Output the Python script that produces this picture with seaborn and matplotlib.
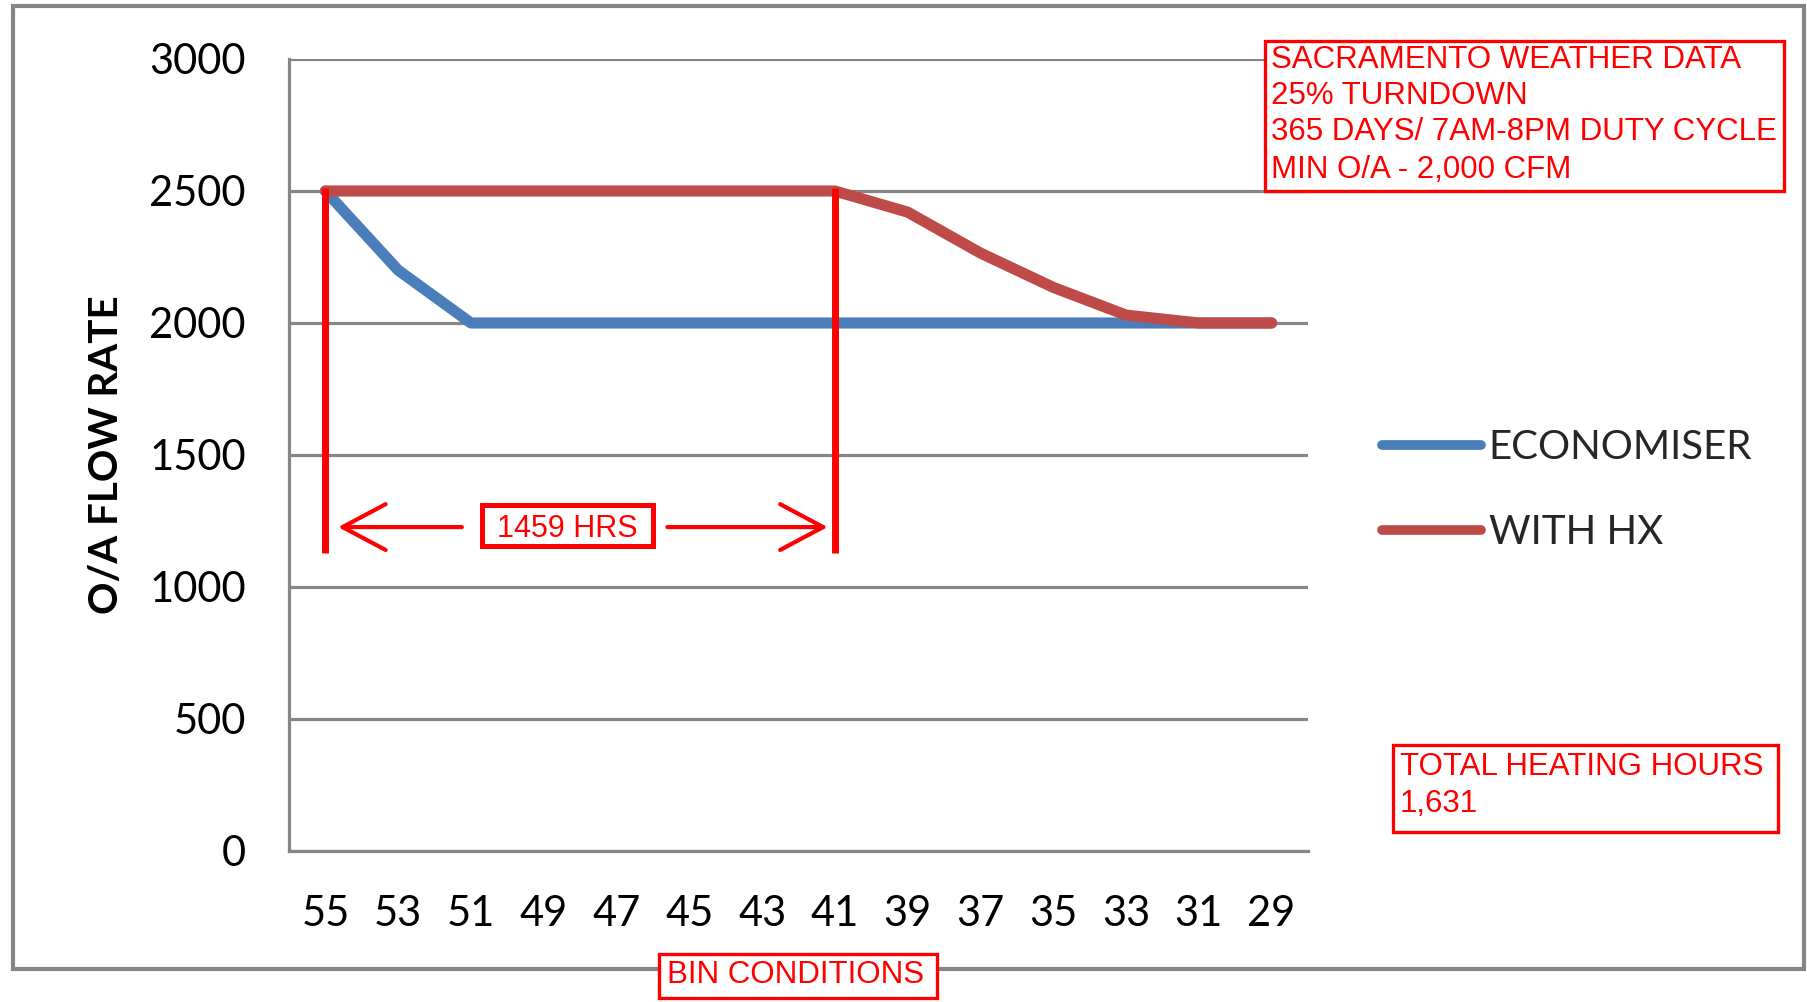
import matplotlib
matplotlib.use("Agg")
import matplotlib.pyplot as plt
from matplotlib.patches import Rectangle
import pandas as pd
import seaborn as sns

# Outside-air bin temperatures (deg F) and O/A flow rate (CFM) per strategy
bins = [55, 53, 51, 49, 47, 45, 43, 41, 39, 37, 35, 33, 31, 29]
economiser = [2500, 2200, 2000, 2000, 2000, 2000, 2000, 2000, 2000, 2000, 2000, 2000, 2000, 2000]
with_hx = [2500, 2500, 2500, 2500, 2500, 2500, 2500, 2500, 2420, 2265, 2135, 2030, 2000, 2000]
series_names = ["ECONOMISER", "WITH HX"]
series_colors = ["#4A7EBB", "#BE4B48"]
y_ticks = [0, 500, 1000, 1500, 2000, 2500, 3000]

# Bracketed heating span (bin 55 down to bin 41) and its label
span_bins = [55, 41]
span_low, span_high = 1130, 2512
span_arrow_y = 1227
span_label = "1459 HRS"

notes_top = ["SACRAMENTO WEATHER DATA", "25% TURNDOWN",
             "365 DAYS/ 7AM-8PM DUTY CYCLE", "MIN O/A - 2,000 CFM"]
notes_bottom = ["TOTAL HEATING HOURS", "1,631"]
x_title = "BIN CONDITIONS"
y_title = "O/A FLOW RATE"

df = pd.DataFrame({
    "BIN": bins * 2,
    "FLOW": economiser + with_hx,
    "SERIES": [series_names[0]] * len(bins) + [series_names[1]] * len(bins),
})

sns.set_style("white")
plt.rcParams["font.family"] = ["Lato", "DejaVu Sans"]

W, H = 1807, 1002
fig = plt.figure(figsize=(W / 100, H / 100), dpi=100)

def fx(px):
    return px / W

def fy(py):
    return 1 - py / H

GRAY = "#868686"
RED = "#FF0000"

# outer chart frame
fig.patches.append(Rectangle((fx(13), fy(969)), fx(1804) - fx(13), fy(6) - fy(969),
                             transform=fig.transFigure, fill=False,
                             edgecolor=GRAY, lw=3, zorder=0))

ax = fig.add_axes([fx(289), fy(851), fx(1308) - fx(289), fy(59) - fy(851)])
ax.set_facecolor("none")

sns.lineplot(data=df, x="BIN", y="FLOW", hue="SERIES", hue_order=series_names,
             palette=series_colors, linewidth=8, ax=ax, zorder=3)
for ln in ax.lines:
    ln.set_solid_capstyle("round")
    ln.set_solid_joinstyle("round")

ax.set_xlim(56, 28)
ax.set_ylim(0, 3000)
ax.set_xticks(bins)
ax.set_xticklabels([str(b) for b in bins])
ax.set_yticks(y_ticks)
ax.set_yticklabels([str(v) for v in y_ticks])
ax.tick_params(axis="both", length=0, labelsize=30, colors="black")
ax.tick_params(axis="y", pad=31)
ax.tick_params(axis="x", pad=32)
ax.grid(axis="y", color=GRAY, lw=2.3, zorder=0)
ax.grid(axis="x", visible=False)
for side in ["top", "right"]:
    ax.spines[side].set_visible(False)
for side in ["left", "bottom"]:
    ax.spines[side].set_color(GRAY)
    ax.spines[side].set_linewidth(2.3)
ax.set_xlabel("")
ax.set_ylabel("")

fig.text(fx(107), fy(455), y_title, rotation=90, ha="center", va="center",
         fontsize=29, fontweight="bold", color="black")

# legend to the right of the plot
handles, labels = ax.get_legend_handles_labels()
leg = ax.legend(handles, labels, loc="center left",
                bbox_to_anchor=(fx(1382), fy(490)), bbox_transform=fig.transFigure,
                frameon=False, fontsize=29, handlelength=2.45, handletextpad=0.2,
                labelspacing=1.2, borderpad=0, borderaxespad=0)
for h in leg.get_lines():
    h.set_linewidth(7)
    h.set_solid_capstyle("round")

# heating span bracket
for b in span_bins:
    ax.plot([b, b], [span_low, span_high], color=RED, lw=5, zorder=5,
            solid_capstyle="butt")

arrow_kw = dict(arrowstyle="->,head_length=31,head_width=16.5", color=RED, lw=3,
                mutation_scale=1, shrinkA=0, shrinkB=0)
ax.annotate("", xy=(54.65, span_arrow_y), xytext=(51.25, span_arrow_y),
            arrowprops=arrow_kw, zorder=5)
ax.annotate("", xy=(41.2, span_arrow_y), xytext=(45.6, span_arrow_y),
            arrowprops=arrow_kw, zorder=5)

RED_FONT = ["Liberation Sans", "DejaVu Sans"]
NOTE_SIZE = 22.5

def red_box(x0, y0, x1, y1, lw=2.4):
    fig.patches.append(Rectangle((fx(x0), fy(y1)), fx(x1) - fx(x0), fy(y0) - fy(y1),
                                 transform=fig.transFigure, facecolor="white",
                                 edgecolor=RED, lw=lw, zorder=6))

red_box(482, 505, 653, 546, lw=3.6)
fig.text(fx(567.5), fy(537), span_label, ha="center", va="baseline",
         fontsize=22, color=RED, family=RED_FONT, zorder=7)

red_box(1265, 41, 1784, 191)
for line, base in zip(notes_top, [68, 104, 140, 178]):
    fig.text(fx(1271), fy(base), line, ha="left", va="baseline",
             fontsize=NOTE_SIZE, color=RED, family=RED_FONT, zorder=7)

red_box(1393, 745, 1778, 832)
for line, base in zip(notes_bottom, [775, 812]):
    fig.text(fx(1400), fy(base), line, ha="left", va="baseline",
             fontsize=NOTE_SIZE, color=RED, family=RED_FONT, zorder=7)

red_box(659, 954, 937, 998)
fig.text(fx(667), fy(983), x_title, ha="left", va="baseline",
         fontsize=NOTE_SIZE, color=RED, family=RED_FONT, zorder=7)

fig.savefig("out.png", dpi=100, facecolor="white")
